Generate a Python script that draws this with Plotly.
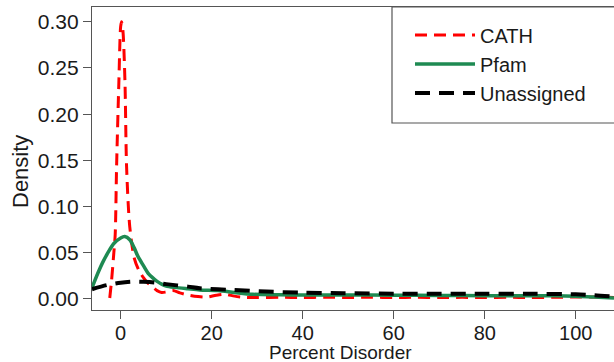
import plotly.graph_objects as go

# ---- data ----
cath_x = [-2.4, -2.0, -1.5, -1.2, -0.9, -0.4, 0.0, 0.2, 0.5, 0.95, 1.3, 2.0, 3.0, 4.0, 5.0,
          6.0, 7.0, 8.0, 9.0, 10.0, 11.5, 13.0, 15.0, 17.0, 19.0, 21.0, 23.0, 25.0, 27.0,
          30.0, 35.0, 40.0, 45.0, 50.0, 55.0, 60.0, 65.0, 70.0, 75.0, 80.0, 85.0, 90.0,
          95.0, 100.0, 104.0, 108.4]
cath_y = [0.001, 0.02, 0.05, 0.07, 0.143, 0.234, 0.295, 0.300, 0.290, 0.234, 0.143, 0.078,
          0.044, 0.031, 0.023, 0.017, 0.013, 0.009, 0.007, 0.0075, 0.009, 0.0065, 0.004,
          0.0025, 0.002, 0.004, 0.005, 0.003, 0.0018, 0.0015, 0.0018, 0.0015, 0.0018,
          0.0015, 0.0018, 0.0015, 0.0017, 0.0015, 0.0017, 0.0015, 0.0017, 0.0015, 0.0017,
          0.002, 0.002, 0.0015]

pfam_x = [-6.3, -5.0, -4.0, -2.8, -1.5, 0.0, 0.9, 2.0, 3.0, 3.8, 5.0, 6.0, 7.0, 8.0, 9.0,
          10.0, 12.0, 14.8, 17.4, 21.4, 25.0, 29.0, 35.0, 40.0, 50.0, 60.0, 70.0, 80.0,
          90.0, 95.0, 100.0, 104.0, 108.4]
pfam_y = [0.012, 0.028, 0.039, 0.050, 0.060, 0.066, 0.0675, 0.064, 0.055, 0.046, 0.036,
          0.028, 0.023, 0.019, 0.016, 0.014, 0.0125, 0.011, 0.0097, 0.009, 0.007, 0.005,
          0.0045, 0.0043, 0.0042, 0.004, 0.0038, 0.0035, 0.0035, 0.0035, 0.003, 0.002,
          0.001]

unas_x = [-6.3, -3.0, 0.0, 3.0, 5.0, 7.5, 10.0, 14.8, 17.4, 24.7, 32.0, 39.4, 48.9, 61.4,
          70.0, 80.0, 90.0, 100.0, 104.0, 108.4]
unas_y = [0.0105, 0.015, 0.0175, 0.0187, 0.0185, 0.0177, 0.016, 0.0133, 0.0115, 0.0097,
          0.0079, 0.0069, 0.0062, 0.0056, 0.0055, 0.0055, 0.0055, 0.005, 0.004, 0.0025]

series_names = ["CATH", "Pfam", "Unassigned"]
x_ticks = [0, 20, 40, 60, 80, 100]
y_ticks = [0.00, 0.05, 0.10, 0.15, 0.20, 0.25, 0.30]

FONT = "Liberation Sans, Arial, sans-serif"
AXC = "#555555"

fig = go.Figure()
fig.add_trace(go.Scatter(x=cath_x, y=cath_y, name=series_names[0], mode="lines",
                         line=dict(color="#ff0000", width=3, dash="12px,7px", shape="spline", smoothing=0.8)))
fig.add_trace(go.Scatter(x=pfam_x, y=pfam_y, name=series_names[1], mode="lines",
                         line=dict(color="#1e8a52", width=3.5, shape="spline", smoothing=0.8)))
fig.add_trace(go.Scatter(x=unas_x, y=unas_y, name=series_names[2], mode="lines",
                         line=dict(color="#000000", width=4, dash="15px,9px", shape="spline", smoothing=0.8)))

fig.update_layout(
    width=614, height=362,
    margin=dict(l=92, r=0, t=7, b=52),
    paper_bgcolor="white", plot_bgcolor="white",
    font=dict(family=FONT, color="#1a1a1a"),
    showlegend=True,
    legend=dict(x=(410 - 92) / 522, y=0.972, xanchor="left", yanchor="top",
                bgcolor="rgba(0,0,0,0)", borderwidth=0,
                font=dict(size=20, family=FONT), itemwidth=60),
    xaxis=dict(range=[-6.3, 108.4], tickvals=x_ticks, ticks="outside", ticklen=8,
               tickcolor=AXC, showline=True, linecolor=AXC, linewidth=1.2, mirror=True,
               showgrid=False, zeroline=False, tickfont=dict(size=20, family=FONT),
               ticklabelstandoff=-3),
    yaxis=dict(range=[-0.012, 0.316], tickvals=y_ticks, tickformat=".2f", ticks="outside",
               ticklen=8, tickcolor=AXC, showline=True, linecolor=AXC, linewidth=1.2,
               showgrid=False, zeroline=False, tickfont=dict(size=21, family=FONT)),
    shapes=[dict(type="rect", xref="paper", yref="paper", x0=(392 - 92) / 522, x1=1.2,
                 y0=(310 - 123) / 303, y1=1.0, line=dict(color=AXC, width=1.2),
                 fillcolor="rgba(0,0,0,0)", layer="below")],
    annotations=[
        dict(text="Percent Disorder", xref="paper", yref="paper", x=(340 - 92) / 522,
             y=-(352 - 310) / 303, xanchor="center", yanchor="middle", showarrow=False,
             font=dict(size=19, family=FONT)),
        dict(text="Density", xref="paper", yref="paper", x=-(92 - 20) / 522,
             y=(310 - 172) / 303, xanchor="center", yanchor="middle", showarrow=False,
             textangle=-90, font=dict(size=22, family=FONT)),
    ],
)

fig.write_html("out.html", config={"displayModeBar": False},
               post_script="document.body.style.margin='0';document.body.style.padding='0';")
